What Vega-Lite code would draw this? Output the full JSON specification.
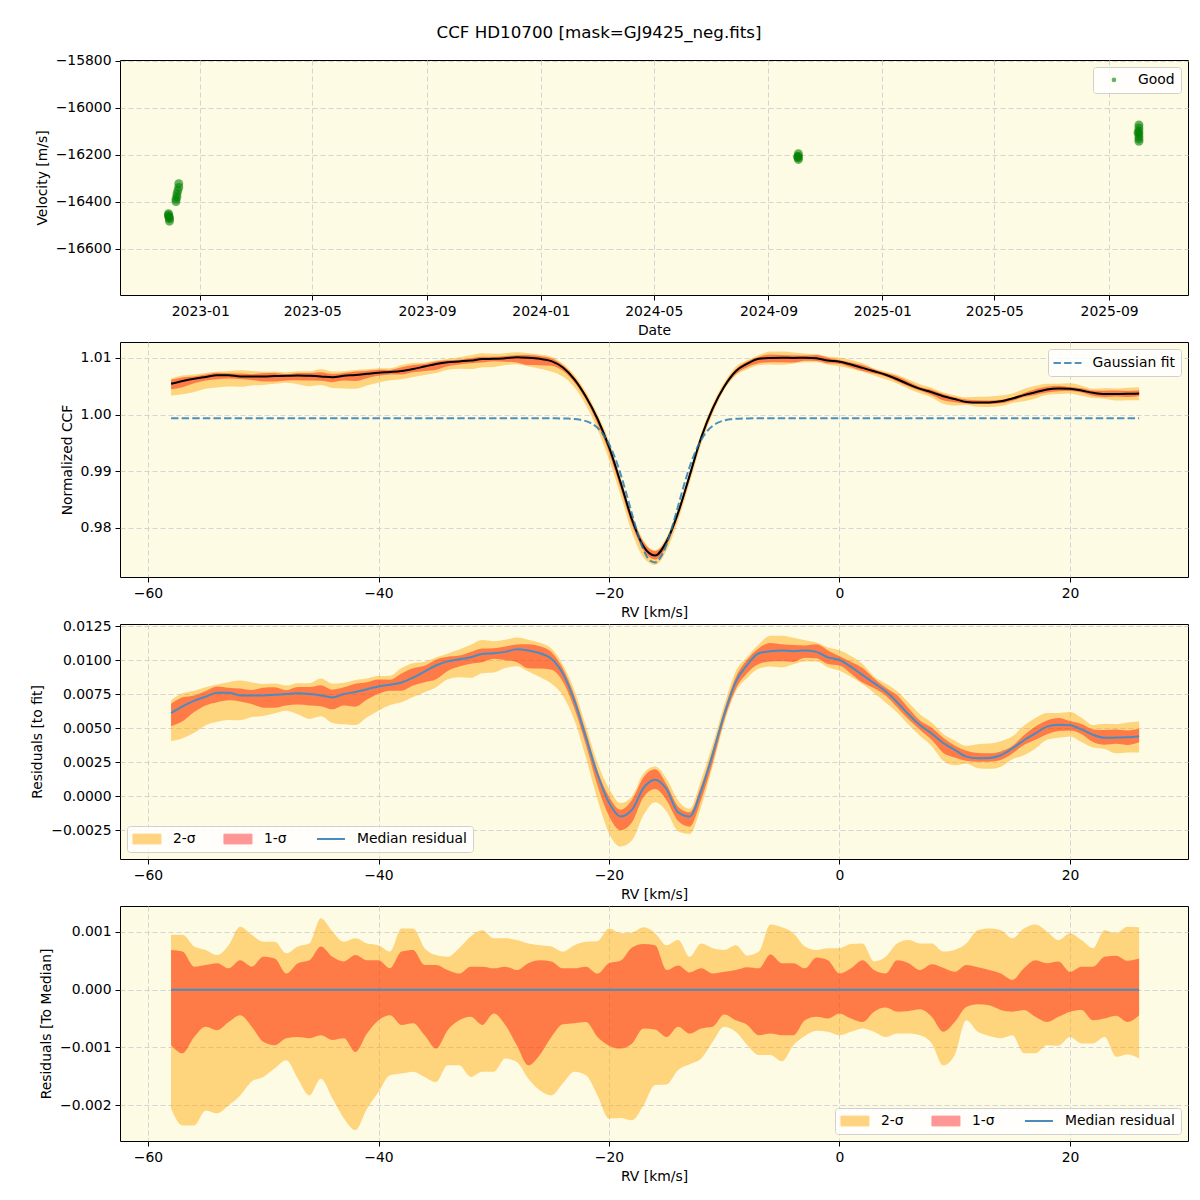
{
"$schema": "https://vega.github.io/schema/vega-lite/v6.json",
"background": "white",
"padding": {"left": 30, "top": 24, "right": 10, "bottom": 10},
"title": {"text": "CCF HD10700 [mask=GJ9425_neg.fits]", "font": "DejaVu Sans", "fontSize": 16.7, "fontWeight": "normal", "color": "black", "anchor": "middle", "frame": "group", "offset": 12, "dx": -55},
"spacing": 47,
"bounds": "flush",
"resolve": {"scale": {"x": "independent", "y": "independent", "color": "independent"}, "axis": {"x": "independent", "y": "independent"}, "legend": {"color": "independent"}},
"config": {
  "font": "DejaVu Sans",
  "view": {"fill": "#FDFBE4", "stroke": "black", "strokeWidth": 1},
  "axis": {"domain": false, "tickColor": "black", "tickSize": 5, "tickWidth": 1, "labelColor": "black", "labelFont": "DejaVu Sans", "labelFontSize": 13.9, "labelPadding": 4, "titleFont": "DejaVu Sans", "titleFontSize": 13.9, "titleFontWeight": "normal", "titleColor": "black", "titlePadding": 6, "gridColor": "#cfcfcf", "gridDash": [5, 3], "gridWidth": 0.9, "labelFlush": false, "labelOverlap": false, "labelBound": false},
  "legend": {"labelFont": "DejaVu Sans", "labelFontSize": 13.9, "labelColor": "black", "fillColor": "rgba(255,255,255,0.8)", "strokeColor": "#d0d0d0", "cornerRadius": 3, "padding": 6, "offset": 7}
},
"datasets": {
"rv": [
{"date":"2022-11-28","vel":-16450},{"date":"2022-11-28","vel":-16462},{"date":"2022-11-29","vel":-16472},{"date":"2022-11-29","vel":-16482},{"date":"2022-11-28","vel":-16455},{"date":"2022-11-29","vel":-16466},
{"date":"2022-12-06","vel":-16398},{"date":"2022-12-06","vel":-16388},{"date":"2022-12-07","vel":-16378},{"date":"2022-12-07","vel":-16366},{"date":"2022-12-08","vel":-16352},{"date":"2022-12-09","vel":-16338},{"date":"2022-12-09","vel":-16322},
{"date":"2024-10-03","vel":-16195},{"date":"2024-10-03","vel":-16205},{"date":"2024-10-03","vel":-16212},{"date":"2024-10-03","vel":-16219},{"date":"2024-10-02","vel":-16208},
{"date":"2025-10-03","vel":-16072},{"date":"2025-10-03","vel":-16085},{"date":"2025-10-03","vel":-16098},{"date":"2025-10-03","vel":-16110},{"date":"2025-10-03","vel":-16122},{"date":"2025-10-03","vel":-16132},{"date":"2025-10-03","vel":-16142},{"date":"2025-10-02","vel":-16105}
],
"gauss": [
{"v":-58,"g":0.99935},{"v":-25,"g":0.99935},{"v":-24,"g":0.99933},{"v":-23.5,"g":0.9993},{"v":-23,"g":0.99924},{"v":-22.5,"g":0.9991},{"v":-22,"g":0.99886},{"v":-21.5,"g":0.99842},{"v":-21,"g":0.99767},{"v":-20.5,"g":0.99652},{"v":-20,"g":0.99481},{"v":-19.5,"g":0.99249},{"v":-19,"g":0.98955},{"v":-18.5,"g":0.9861},{"v":-18,"g":0.98245},{"v":-17.5,"g":0.97897},{"v":-17,"g":0.97613},{"v":-16.5,"g":0.97436},{"v":-16,"g":0.97393},{"v":-15.5,"g":0.97492},{"v":-15,"g":0.97715},{"v":-14.5,"g":0.98031},{"v":-14,"g":0.98391},{"v":-13.5,"g":0.98752},{"v":-13,"g":0.99079},{"v":-12.5,"g":0.99349},{"v":-12,"g":0.99557},{"v":-11.5,"g":0.99704},{"v":-11,"g":0.99802},{"v":-10.5,"g":0.99862},{"v":-10,"g":0.99898},{"v":-9.5,"g":0.99917},{"v":-9,"g":0.99927},{"v":-8,"g":0.99934},{"v":-7,"g":0.99935},{"v":26,"g":0.99935}
],
"ccf": [
{"v":-58,"k":1.00545,"k2l":1.00339,"k1l":1.00449,"k1h":1.00614,"k2h":1.0064,"m":0.0061,"m2l":0.00404,"m1l":0.00514,"m1h":0.00679,"m2h":0.00705,"d2l":-0.00206,"d1l":-0.00096,"d1h":0.00069,"d2h":0.00095},
{"v":-57,"k":1.00595,"k2l":1.0036,"k1l":1.00485,"k1h":1.00661,"k2h":1.0069,"m":0.0066,"m2l":0.00425,"m1l":0.0055,"m1h":0.00726,"m2h":0.00755,"d2l":-0.00235,"d1l":-0.0011,"d1h":0.00066,"d2h":0.00095},
{"v":-56,"k":1.00635,"k2l":1.004,"k1l":1.00553,"k1h":1.00675,"k2h":1.0071,"m":0.007,"m2l":0.00465,"m1l":0.00618,"m1h":0.0074,"m2h":0.00775,"d2l":-0.00235,"d1l":-0.00082,"d1h":0.0004,"d2h":0.00075},
{"v":-55,"k":1.00665,"k2l":1.00456,"k1l":1.00601,"k1h":1.00708,"k2h":1.00734,"m":0.0073,"m2l":0.00521,"m1l":0.00666,"m1h":0.00773,"m2h":0.00799,"d2l":-0.00209,"d1l":-0.00064,"d1h":0.00043,"d2h":0.00069},
{"v":-54,"k":1.00695,"k2l":1.00481,"k1l":1.00625,"k1h":1.00741,"k2h":1.00755,"m":0.0076,"m2l":0.00546,"m1l":0.0069,"m1h":0.00806,"m2h":0.0082,"d2l":-0.00214,"d1l":-0.0007,"d1h":0.00046,"d2h":0.0006},
{"v":-53,"k":1.00695,"k2l":1.00495,"k1l":1.00639,"k1h":1.00732,"k2h":1.00772,"m":0.0076,"m2l":0.0056,"m1l":0.00704,"m1h":0.00797,"m2h":0.00837,"d2l":-0.002,"d1l":-0.00056,"d1h":0.00037,"d2h":0.00077},
{"v":-52,"k":1.00675,"k2l":1.00492,"k1l":1.00631,"k1h":1.00726,"k2h":1.00784,"m":0.0074,"m2l":0.00557,"m1l":0.00696,"m1h":0.00791,"m2h":0.00849,"d2l":-0.00183,"d1l":-0.00044,"d1h":0.00051,"d2h":0.00109},
{"v":-51,"k":1.00675,"k2l":1.00516,"k1l":1.00611,"k1h":1.00715,"k2h":1.0077,"m":0.0074,"m2l":0.00581,"m1l":0.00676,"m1h":0.0078,"m2h":0.00835,"d2l":-0.00159,"d1l":-0.00064,"d1h":0.0004,"d2h":0.00095},
{"v":-50,"k":1.00675,"k2l":1.00524,"k1l":1.00585,"k1h":1.00732,"k2h":1.00758,"m":0.0074,"m2l":0.00589,"m1l":0.0065,"m1h":0.00797,"m2h":0.00823,"d2l":-0.00151,"d1l":-0.0009,"d1h":0.00057,"d2h":0.00083},
{"v":-49,"k":1.0068,"k2l":1.00544,"k1l":1.00584,"k1h":1.00734,"k2h":1.00763,"m":0.00745,"m2l":0.00609,"m1l":0.00649,"m1h":0.00799,"m2h":0.00828,"d2l":-0.00136,"d1l":-0.00096,"d1h":0.00054,"d2h":0.00083},
{"v":-48,"k":1.00685,"k2l":1.00563,"k1l":1.00601,"k1h":1.00713,"k2h":1.00748,"m":0.0075,"m2l":0.00628,"m1l":0.00666,"m1h":0.00778,"m2h":0.00813,"d2l":-0.00122,"d1l":-0.00084,"d1h":0.00028,"d2h":0.00063},
{"v":-47,"k":1.0069,"k2l":1.00536,"k1l":1.00608,"k1h":1.00736,"k2h":1.00765,"m":0.00755,"m2l":0.00601,"m1l":0.00673,"m1h":0.00801,"m2h":0.0083,"d2l":-0.00154,"d1l":-0.00082,"d1h":0.00046,"d2h":0.00075},
{"v":-46,"k":1.00685,"k2l":1.00502,"k1l":1.00601,"k1h":1.00736,"k2h":1.00765,"m":0.0075,"m2l":0.00567,"m1l":0.00666,"m1h":0.00801,"m2h":0.0083,"d2l":-0.00183,"d1l":-0.00084,"d1h":0.00051,"d2h":0.0008},
{"v":-45,"k":1.00675,"k2l":1.00521,"k1l":1.00596,"k1h":1.0075,"k2h":1.00799,"m":0.0074,"m2l":0.00586,"m1l":0.00661,"m1h":0.00815,"m2h":0.00864,"d2l":-0.00154,"d1l":-0.00079,"d1h":0.00075,"d2h":0.00124},
{"v":-44,"k":1.0066,"k2l":1.00472,"k1l":1.00573,"k1h":1.00717,"k2h":1.00761,"m":0.00725,"m2l":0.00537,"m1l":0.00638,"m1h":0.00782,"m2h":0.00826,"d2l":-0.00188,"d1l":-0.00087,"d1h":0.00057,"d2h":0.00101},
{"v":-43,"k":1.00685,"k2l":1.00462,"k1l":1.00601,"k1h":1.00734,"k2h":1.00768,"m":0.0075,"m2l":0.00527,"m1l":0.00666,"m1h":0.00799,"m2h":0.00833,"d2l":-0.00223,"d1l":-0.00084,"d1h":0.00049,"d2h":0.00083},
{"v":-42,"k":1.007,"k2l":1.00457,"k1l":1.00592,"k1h":1.0076,"k2h":1.00789,"m":0.00765,"m2l":0.00522,"m1l":0.00657,"m1h":0.00825,"m2h":0.00854,"d2l":-0.00243,"d1l":-0.00108,"d1h":0.0006,"d2h":0.00089},
{"v":-41,"k":1.0072,"k2l":1.00514,"k1l":1.00644,"k1h":1.00771,"k2h":1.008,"m":0.00785,"m2l":0.00579,"m1l":0.00709,"m1h":0.00836,"m2h":0.00865,"d2l":-0.00206,"d1l":-0.00076,"d1h":0.00051,"d2h":0.0008},
{"v":-40,"k":1.0074,"k2l":1.00563,"k1l":1.00687,"k1h":1.00791,"k2h":1.00817,"m":0.00805,"m2l":0.00628,"m1l":0.00752,"m1h":0.00856,"m2h":0.00882,"d2l":-0.00177,"d1l":-0.00053,"d1h":0.00051,"d2h":0.00077},
{"v":-39,"k":1.00753,"k2l":1.00605,"k1l":1.00709,"k1h":1.0079,"k2h":1.00819,"m":0.00818,"m2l":0.0067,"m1l":0.00774,"m1h":0.00855,"m2h":0.00884,"d2l":-0.00148,"d1l":-0.00044,"d1h":0.00037,"d2h":0.00066},
{"v":-38,"k":1.0077,"k2l":1.00625,"k1l":1.00709,"k1h":1.00836,"k2h":1.00876,"m":0.00835,"m2l":0.0069,"m1l":0.00774,"m1h":0.00901,"m2h":0.00941,"d2l":-0.00145,"d1l":-0.00061,"d1h":0.00066,"d2h":0.00106},
{"v":-37,"k":1.00805,"k2l":1.00663,"k1l":1.00747,"k1h":1.00874,"k2h":1.00911,"m":0.0087,"m2l":0.00728,"m1l":0.00812,"m1h":0.00939,"m2h":0.00976,"d2l":-0.00142,"d1l":-0.00058,"d1h":0.00069,"d2h":0.00106},
{"v":-36,"k":1.0085,"k2l":1.00699,"k1l":1.00771,"k1h":1.00893,"k2h":1.00922,"m":0.00915,"m2l":0.00764,"m1l":0.00836,"m1h":0.00958,"m2h":0.00987,"d2l":-0.00151,"d1l":-0.00079,"d1h":0.00043,"d2h":0.00072},
{"v":-35,"k":1.00895,"k2l":1.00735,"k1l":1.00793,"k1h":1.00938,"k2h":1.00955,"m":0.0096,"m2l":0.008,"m1l":0.00858,"m1h":0.01003,"m2h":0.0102,"d2l":-0.0016,"d1l":-0.00102,"d1h":0.00043,"d2h":0.0006},
{"v":-34,"k":1.00925,"k2l":1.00794,"k1l":1.00855,"k1h":1.00959,"k2h":1.00982,"m":0.0099,"m2l":0.00859,"m1l":0.0092,"m1h":0.01024,"m2h":0.01047,"d2l":-0.00131,"d1l":-0.0007,"d1h":0.00034,"d2h":0.00057},
{"v":-33,"k":1.0094,"k2l":1.00809,"k1l":1.00887,"k1h":1.00968,"k2h":1.01012,"m":0.01005,"m2l":0.00874,"m1l":0.00952,"m1h":0.01033,"m2h":0.01077,"d2l":-0.00131,"d1l":-0.00053,"d1h":0.00028,"d2h":0.00072},
{"v":-32,"k":1.00955,"k2l":1.00804,"k1l":1.00908,"k1h":1.00995,"k2h":1.01047,"m":0.0102,"m2l":0.00869,"m1l":0.00973,"m1h":0.0106,"m2h":0.01112,"d2l":-0.00151,"d1l":-0.00047,"d1h":0.0004,"d2h":0.00092},
{"v":-31,"k":1.0098,"k2l":1.00838,"k1l":1.00919,"k1h":1.0102,"k2h":1.01083,"m":0.01045,"m2l":0.00903,"m1l":0.00984,"m1h":0.01085,"m2h":0.01148,"d2l":-0.00142,"d1l":-0.00061,"d1h":0.0004,"d2h":0.00103},
{"v":-30,"k":1.00985,"k2l":1.00843,"k1l":1.00944,"k1h":1.01022,"k2h":1.01074,"m":0.0105,"m2l":0.00908,"m1l":0.01009,"m1h":0.01087,"m2h":0.01139,"d2l":-0.00142,"d1l":-0.00041,"d1h":0.00037,"d2h":0.00089},
{"v":-29,"k":1.00995,"k2l":1.00876,"k1l":1.00934,"k1h":1.01035,"k2h":1.01084,"m":0.0106,"m2l":0.00941,"m1l":0.00999,"m1h":0.011,"m2h":0.01149,"d2l":-0.00119,"d1l":-0.00061,"d1h":0.0004,"d2h":0.00089},
{"v":-28,"k":1.01015,"k2l":1.0089,"k1l":1.00919,"k1h":1.01049,"k2h":1.01101,"m":0.0108,"m2l":0.00955,"m1l":0.00984,"m1h":0.01114,"m2h":0.01166,"d2l":-0.00125,"d1l":-0.00096,"d1h":0.00034,"d2h":0.00086},
{"v":-27,"k":1.01005,"k2l":1.00851,"k1l":1.00874,"k1h":1.01051,"k2h":1.01085,"m":0.0107,"m2l":0.00916,"m1l":0.00939,"m1h":0.01116,"m2h":0.0115,"d2l":-0.00154,"d1l":-0.00131,"d1h":0.00046,"d2h":0.0008},
{"v":-26,"k":1.00985,"k2l":1.00811,"k1l":1.00872,"k1h":1.01036,"k2h":1.01062,"m":0.0105,"m2l":0.00876,"m1l":0.00937,"m1h":0.01101,"m2h":0.01127,"d2l":-0.00174,"d1l":-0.00113,"d1h":0.00051,"d2h":0.00077},
{"v":-25,"k":1.00945,"k2l":1.00762,"k1l":1.00863,"k1h":1.00994,"k2h":1.0102,"m":0.0101,"m2l":0.00827,"m1l":0.00928,"m1h":0.01059,"m2h":0.01085,"d2l":-0.00183,"d1l":-0.00082,"d1h":0.00049,"d2h":0.00075},
{"v":-24,"k":1.00833,"k2l":1.00671,"k1l":1.00773,"k1h":1.0087,"k2h":1.00899,"m":0.009,"m2l":0.00738,"m1l":0.0084,"m1h":0.00937,"m2h":0.00966,"d2l":-0.00162,"d1l":-0.0006,"d1h":0.00037,"d2h":0.00066},
{"v":-23,"k":1.00624,"k2l":1.00482,"k1l":1.00566,"k1h":1.00661,"k2h":1.00701,"m":0.007,"m2l":0.00558,"m1l":0.00642,"m1h":0.00737,"m2h":0.00777,"d2l":-0.00142,"d1l":-0.00058,"d1h":0.00037,"d2h":0.00077},
{"v":-22,"k":1.00316,"k2l":1.00168,"k1l":1.0026,"k1h":1.00356,"k2h":1.00399,"m":0.0043,"m2l":0.00282,"m1l":0.00374,"m1h":0.0047,"m2h":0.00513,"d2l":-0.00148,"d1l":-0.00056,"d1h":0.0004,"d2h":0.00083},
{"v":-21,"k":0.99927,"k2l":0.99744,"k1l":0.99845,"k1h":0.99955,"k2h":1.00011,"m":0.0016,"m2l":-0.00023,"m1l":0.00078,"m1h":0.00188,"m2h":0.00244,"d2l":-0.00183,"d1l":-0.00082,"d1h":0.00028,"d2h":0.00084},
{"v":-20,"k":0.99431,"k2l":0.99208,"k1l":0.99334,"k1h":0.99477,"k2h":0.99537,"m":-0.0005,"m2l":-0.00273,"m1l":-0.00147,"m1h":-0.00004,"m2h":0.00056,"d2l":-0.00223,"d1l":-0.00097,"d1h":0.00046,"d2h":0.00106},
{"v":-19,"k":0.98805,"k2l":0.98583,"k1l":0.98703,"k1h":0.98855,"k2h":0.98903,"m":-0.0015,"m2l":-0.00372,"m1l":-0.00252,"m1h":-0.001,"m2h":-0.00052,"d2l":-0.00222,"d1l":-0.00102,"d1h":0.0005,"d2h":0.00098},
{"v":-18,"k":0.98145,"k2l":0.97919,"k1l":0.98052,"k1h":0.98218,"k2h":0.98244,"m":-0.001,"m2l":-0.00326,"m1l":-0.00193,"m1h":-0.00027,"m2h":-0.00001,"d2l":-0.00226,"d1l":-0.00093,"d1h":0.00073,"d2h":0.00099},
{"v":-17,"k":0.97673,"k2l":0.97473,"k1l":0.97606,"k1h":0.97752,"k2h":0.97781,"m":0.0006,"m2l":-0.0014,"m1l":-0.00007,"m1h":0.00139,"m2h":0.00168,"d2l":-0.002,"d1l":-0.00067,"d1h":0.00079,"d2h":0.00108},
{"v":-16,"k":0.97513,"k2l":0.97348,"k1l":0.97444,"k1h":0.9759,"k2h":0.97611,"m":0.0012,"m2l":-0.00045,"m1l":0.00051,"m1h":0.00197,"m2h":0.00218,"d2l":-0.00165,"d1l":-0.00069,"d1h":0.00077,"d2h":0.00098},
{"v":-15,"k":0.97765,"k2l":0.97601,"k1l":0.97683,"k1h":0.97799,"k2h":0.97842,"m":0.0005,"m2l":-0.00114,"m1l":-0.00032,"m1h":0.00084,"m2h":0.00127,"d2l":-0.00164,"d1l":-0.00082,"d1h":0.00034,"d2h":0.00077},
{"v":-14,"k":0.98271,"k2l":0.98132,"k1l":0.98207,"k1h":0.98313,"k2h":0.98357,"m":-0.0012,"m2l":-0.00259,"m1l":-0.00184,"m1h":-0.00078,"m2h":-0.00034,"d2l":-0.00139,"d1l":-0.00064,"d1h":0.00042,"d2h":0.00086},
{"v":-13,"k":0.98929,"k2l":0.988,"k1l":0.98853,"k1h":0.98959,"k2h":0.98986,"m":-0.0015,"m2l":-0.00279,"m1l":-0.00226,"m1h":-0.0012,"m2h":-0.00093,"d2l":-0.00129,"d1l":-0.00076,"d1h":0.0003,"d2h":0.00057},
{"v":-12,"k":0.99597,"k2l":0.99478,"k1l":0.9953,"k1h":0.99634,"k2h":0.99677,"m":0.0004,"m2l":-0.00079,"m1l":-0.00027,"m1h":0.00077,"m2h":0.0012,"d2l":-0.00119,"d1l":-0.00067,"d1h":0.00037,"d2h":0.0008},
{"v":-11,"k":1.00112,"k2l":1.00022,"k1l":1.00048,"k1h":1.0014,"k2h":1.00184,"m":0.0031,"m2l":0.0022,"m1l":0.00246,"m1h":0.00338,"m2h":0.00382,"d2l":-0.0009,"d1l":-0.00064,"d1h":0.00028,"d2h":0.00072},
{"v":-10,"k":1.00498,"k2l":1.00434,"k1l":1.00455,"k1h":1.00529,"k2h":1.00567,"m":0.006,"m2l":0.00536,"m1l":0.00557,"m1h":0.00631,"m2h":0.00669,"d2l":-0.00064,"d1l":-0.00043,"d1h":0.00031,"d2h":0.00069},
{"v":-9,"k":1.00767,"k2l":1.00694,"k1l":1.00714,"k1h":1.00801,"k2h":1.00844,"m":0.0084,"m2l":0.00767,"m1l":0.00787,"m1h":0.00874,"m2h":0.00917,"d2l":-0.00073,"d1l":-0.00053,"d1h":0.00034,"d2h":0.00077},
{"v":-8,"k":1.00899,"k2l":1.00803,"k1l":1.00838,"k1h":1.00938,"k2h":1.00958,"m":0.00965,"m2l":0.00869,"m1l":0.00904,"m1h":0.01004,"m2h":0.01024,"d2l":-0.00096,"d1l":-0.00061,"d1h":0.00039,"d2h":0.00059},
{"v":-7,"k":1.00985,"k2l":1.00872,"k1l":1.00906,"k1h":1.01022,"k2h":1.01051,"m":0.0105,"m2l":0.00937,"m1l":0.00971,"m1h":0.01087,"m2h":0.01116,"d2l":-0.00113,"d1l":-0.00079,"d1h":0.00037,"d2h":0.00066},
{"v":-6,"k":1.01,"k2l":1.00887,"k1l":1.00924,"k1h":1.01061,"k2h":1.01113,"m":0.01065,"m2l":0.00952,"m1l":0.00989,"m1h":0.01126,"m2h":0.01178,"d2l":-0.00113,"d1l":-0.00076,"d1h":0.00061,"d2h":0.00113},
{"v":-5,"k":1.01005,"k2l":1.00881,"k1l":1.00926,"k1h":1.01051,"k2h":1.01113,"m":0.0107,"m2l":0.00946,"m1l":0.00991,"m1h":0.01116,"m2h":0.01178,"d2l":-0.00124,"d1l":-0.00079,"d1h":0.00046,"d2h":0.00108},
{"v":-4,"k":1.01,"k2l":1.00904,"k1l":1.00921,"k1h":1.01046,"k2h":1.01098,"m":0.01065,"m2l":0.00969,"m1l":0.00986,"m1h":0.01111,"m2h":0.01163,"d2l":-0.00096,"d1l":-0.00079,"d1h":0.00046,"d2h":0.00098},
{"v":-3,"k":1.01005,"k2l":1.00925,"k1l":1.00952,"k1h":1.01042,"k2h":1.0108,"m":0.0107,"m2l":0.0099,"m1l":0.01017,"m1h":0.01107,"m2h":0.01145,"d2l":-0.0008,"d1l":-0.00053,"d1h":0.00037,"d2h":0.00075},
{"v":-2,"k":1.00995,"k2l":1.00924,"k1l":1.00948,"k1h":1.01051,"k2h":1.01064,"m":0.0106,"m2l":0.00989,"m1l":0.01013,"m1h":0.01116,"m2h":0.01129,"d2l":-0.00071,"d1l":-0.00047,"d1h":0.00056,"d2h":0.00069},
{"v":-1,"k":1.00955,"k2l":1.00882,"k1l":1.00905,"k1h":1.01006,"k2h":1.01027,"m":0.0102,"m2l":0.00947,"m1l":0.0097,"m1h":0.01071,"m2h":0.01092,"d2l":-0.00073,"d1l":-0.0005,"d1h":0.00051,"d2h":0.00072},
{"v":0,"k":1.00935,"k2l":1.00856,"k1l":1.00894,"k1h":1.00963,"k2h":1.01007,"m":0.01,"m2l":0.00921,"m1l":0.00959,"m1h":0.01028,"m2h":0.01072,"d2l":-0.00079,"d1l":-0.00041,"d1h":0.00028,"d2h":0.00072},
{"v":1,"k":1.00885,"k2l":1.00812,"k1l":1.00835,"k1h":1.00922,"k2h":1.00964,"m":0.0095,"m2l":0.00877,"m1l":0.009,"m1h":0.00987,"m2h":0.01029,"d2l":-0.00073,"d1l":-0.0005,"d1h":0.00037,"d2h":0.00079},
{"v":2,"k":1.00825,"k2l":1.00758,"k1l":1.00769,"k1h":1.00876,"k2h":1.00905,"m":0.0089,"m2l":0.00823,"m1l":0.00834,"m1h":0.00941,"m2h":0.0097,"d2l":-0.00067,"d1l":-0.00056,"d1h":0.00051,"d2h":0.0008},
{"v":3,"k":1.00765,"k2l":1.00692,"k1l":1.00727,"k1h":1.00799,"k2h":1.00814,"m":0.0083,"m2l":0.00757,"m1l":0.00792,"m1h":0.00864,"m2h":0.00879,"d2l":-0.00073,"d1l":-0.00038,"d1h":0.00034,"d2h":0.00049},
{"v":4,"k":1.00705,"k2l":1.00623,"k1l":1.00674,"k1h":1.00733,"k2h":1.00762,"m":0.0077,"m2l":0.00688,"m1l":0.00739,"m1h":0.00798,"m2h":0.00827,"d2l":-0.00082,"d1l":-0.00031,"d1h":0.00028,"d2h":0.00057},
{"v":5,"k":1.00625,"k2l":1.00549,"k1l":1.00587,"k1h":1.00676,"k2h":1.00705,"m":0.0069,"m2l":0.00614,"m1l":0.00652,"m1h":0.00741,"m2h":0.0077,"d2l":-0.00076,"d1l":-0.00038,"d1h":0.00051,"d2h":0.0008},
{"v":6,"k":1.00535,"k2l":1.00459,"k1l":1.00498,"k1h":1.00581,"k2h":1.00621,"m":0.006,"m2l":0.00524,"m1l":0.00563,"m1h":0.00646,"m2h":0.00686,"d2l":-0.00076,"d1l":-0.00037,"d1h":0.00046,"d2h":0.00086},
{"v":7,"k":1.00455,"k2l":1.00376,"k1l":1.00421,"k1h":1.00489,"k2h":1.00535,"m":0.0052,"m2l":0.00441,"m1l":0.00486,"m1h":0.00554,"m2h":0.006,"d2l":-0.00079,"d1l":-0.00034,"d1h":0.00034,"d2h":0.0008},
{"v":8,"k":1.00395,"k2l":1.00302,"k1l":1.00348,"k1h":1.00439,"k2h":1.00475,"m":0.0046,"m2l":0.00367,"m1l":0.00413,"m1h":0.00504,"m2h":0.0054,"d2l":-0.00093,"d1l":-0.00047,"d1h":0.00044,"d2h":0.0008},
{"v":9,"k":1.00325,"k2l":1.00194,"k1l":1.00252,"k1h":1.00363,"k2h":1.00391,"m":0.0039,"m2l":0.00259,"m1l":0.00317,"m1h":0.00428,"m2h":0.00456,"d2l":-0.00131,"d1l":-0.00073,"d1h":0.00038,"d2h":0.00066},
{"v":10,"k":1.00275,"k2l":1.00162,"k1l":1.00219,"k1h":1.00306,"k2h":1.00344,"m":0.0034,"m2l":0.00227,"m1l":0.00284,"m1h":0.00371,"m2h":0.00409,"d2l":-0.00113,"d1l":-0.00056,"d1h":0.00031,"d2h":0.00069},
{"v":11,"k":1.00225,"k2l":1.00172,"k1l":1.00195,"k1h":1.00268,"k2h":1.00305,"m":0.0029,"m2l":0.00237,"m1l":0.0026,"m1h":0.00333,"m2h":0.0037,"d2l":-0.00053,"d1l":-0.0003,"d1h":0.00043,"d2h":0.0008},
{"v":12,"k":1.00213,"k2l":1.0014,"k1l":1.00188,"k1h":1.00252,"k2h":1.00316,"m":0.00278,"m2l":0.00205,"m1l":0.00253,"m1h":0.00317,"m2h":0.00381,"d2l":-0.00073,"d1l":-0.00025,"d1h":0.00039,"d2h":0.00103},
{"v":13,"k":1.00215,"k2l":1.00135,"k1l":1.00188,"k1h":1.00249,"k2h":1.00321,"m":0.0028,"m2l":0.002,"m1l":0.00253,"m1h":0.00314,"m2h":0.00386,"d2l":-0.0008,"d1l":-0.00027,"d1h":0.00034,"d2h":0.00106},
{"v":14,"k":1.00235,"k2l":1.00151,"k1l":1.002,"k1h":1.00263,"k2h":1.00338,"m":0.003,"m2l":0.00216,"m1l":0.00265,"m1h":0.00328,"m2h":0.00403,"d2l":-0.00084,"d1l":-0.00035,"d1h":0.00028,"d2h":0.00103},
{"v":15,"k":1.00285,"k2l":1.00206,"k1l":1.00247,"k1h":1.00302,"k2h":1.00374,"m":0.0035,"m2l":0.00271,"m1l":0.00312,"m1h":0.00367,"m2h":0.00439,"d2l":-0.00079,"d1l":-0.00038,"d1h":0.00017,"d2h":0.00089},
{"v":16,"k":1.00345,"k2l":1.00235,"k1l":1.0031,"k1h":1.00382,"k2h":1.00451,"m":0.0041,"m2l":0.003,"m1l":0.00375,"m1h":0.00447,"m2h":0.00516,"d2l":-0.0011,"d1l":-0.00035,"d1h":0.00037,"d2h":0.00106},
{"v":17,"k":1.00395,"k2l":1.00285,"k1l":1.00348,"k1h":1.00446,"k2h":1.00508,"m":0.0046,"m2l":0.0035,"m1l":0.00413,"m1h":0.00511,"m2h":0.00573,"d2l":-0.0011,"d1l":-0.00047,"d1h":0.00051,"d2h":0.00113},
{"v":18,"k":1.00445,"k2l":1.00349,"k1l":1.00389,"k1h":1.00491,"k2h":1.00546,"m":0.0051,"m2l":0.00414,"m1l":0.00454,"m1h":0.00556,"m2h":0.00611,"d2l":-0.00096,"d1l":-0.00056,"d1h":0.00046,"d2h":0.00101},
{"v":19,"k":1.0046,"k2l":1.00363,"k1l":1.00413,"k1h":1.00509,"k2h":1.00546,"m":0.00525,"m2l":0.00428,"m1l":0.00478,"m1h":0.00574,"m2h":0.00611,"d2l":-0.00097,"d1l":-0.00047,"d1h":0.00049,"d2h":0.00086},
{"v":20,"k":1.00455,"k2l":1.00373,"k1l":1.00417,"k1h":1.00486,"k2h":1.00553,"m":0.0052,"m2l":0.00438,"m1l":0.00482,"m1h":0.00551,"m2h":0.00618,"d2l":-0.00082,"d1l":-0.00038,"d1h":0.00031,"d2h":0.00098},
{"v":21,"k":1.00425,"k2l":1.00332,"k1l":1.0039,"k1h":1.00465,"k2h":1.00511,"m":0.0049,"m2l":0.00397,"m1l":0.00455,"m1h":0.0053,"m2h":0.00576,"d2l":-0.00093,"d1l":-0.00035,"d1h":0.0004,"d2h":0.00086},
{"v":22,"k":1.00385,"k2l":1.00292,"k1l":1.00332,"k1h":1.00425,"k2h":1.00457,"m":0.0045,"m2l":0.00357,"m1l":0.00397,"m1h":0.0049,"m2h":0.00522,"d2l":-0.00093,"d1l":-0.00053,"d1h":0.0004,"d2h":0.00072},
{"v":23,"k":1.00363,"k2l":1.00281,"k1l":1.00313,"k1h":1.0042,"k2h":1.00466,"m":0.00428,"m2l":0.00346,"m1l":0.00378,"m1h":0.00485,"m2h":0.00531,"d2l":-0.00082,"d1l":-0.0005,"d1h":0.00057,"d2h":0.00103},
{"v":24,"k":1.00365,"k2l":1.00249,"k1l":1.0032,"k1h":1.00424,"k2h":1.00463,"m":0.0043,"m2l":0.00314,"m1l":0.00385,"m1h":0.00489,"m2h":0.00528,"d2l":-0.00116,"d1l":-0.00045,"d1h":0.00059,"d2h":0.00098},
{"v":25,"k":1.00367,"k2l":1.00255,"k1l":1.00311,"k1h":1.00417,"k2h":1.00476,"m":0.00432,"m2l":0.0032,"m1l":0.00376,"m1h":0.00482,"m2h":0.00541,"d2l":-0.00112,"d1l":-0.00056,"d1h":0.0005,"d2h":0.00109},
{"v":26,"k":1.00375,"k2l":1.00256,"k1l":1.00331,"k1h":1.00429,"k2h":1.00483,"m":0.0044,"m2l":0.00321,"m1l":0.00396,"m1h":0.00494,"m2h":0.00548,"d2l":-0.00119,"d1l":-0.00044,"d1h":0.00054,"d2h":0.00108}
]
},
"vconcat": [
{
  "width": 1068, "height": 235,
  "data": {"name": "rv"},
  "mark": {"type": "point", "filled": true, "opacity": 0.6, "size": 80},
  "encoding": {
    "x": {"field": "date", "type": "temporal", "title": "Date",
      "scale": {"type": "utc", "domain": [{"year": 2022, "month": 10, "date": 7, "utc": true}, {"year": 2025, "month": 11, "date": 24, "hours": 14, "utc": true}]},
      "axis": {"labelExpr": "utcFormat(datum.value, '%Y-%m')", "labelOverlap": false, "values": [
        {"year": 2023, "month": 1, "date": 1, "utc": true}, {"year": 2023, "month": 5, "date": 1, "utc": true}, {"year": 2023, "month": 9, "date": 1, "utc": true},
        {"year": 2024, "month": 1, "date": 1, "utc": true}, {"year": 2024, "month": 5, "date": 1, "utc": true}, {"year": 2024, "month": 9, "date": 1, "utc": true},
        {"year": 2025, "month": 1, "date": 1, "utc": true}, {"year": 2025, "month": 5, "date": 1, "utc": true}, {"year": 2025, "month": 9, "date": 1, "utc": true}]}},
    "y": {"field": "vel", "type": "quantitative", "title": "Velocity [m/s]",
      "scale": {"domain": [-16796, -15796], "nice": false, "zero": false},
      "axis": {"values": [-16600, -16400, -16200, -16000, -15800], "format": "d", "labelOverlap": false}},
    "color": {"datum": "Good", "scale": {"range": ["#008000"]},
      "legend": {"title": null, "orient": "top-right", "symbolType": "circle", "symbolSize": 22, "symbolOffset": 8, "labelOffset": 17}}
  }
},
{
  "width": 1068, "height": 235,
  "layer": [
    {"data": {"name": "ccf"}, "mark": {"type": "area", "interpolate": "monotone", "fill": "#FFA500", "fillOpacity": 0.45},
     "encoding": {"x": {"field": "v", "type": "quantitative", "title": "RV [km/s]", "scale": {"domain": [-62.43, 30.24], "nice": false, "zero": false}, "axis": {"values": [-60, -40, -20, 0, 20], "format": "d", "labelOverlap": false}},
       "y": {"field": "k2l", "type": "quantitative", "title": "Normalized CCF", "scale": {"domain": [0.97135, 1.01282], "nice": false, "zero": false}, "axis": {"values": [0.98, 0.99, 1.0, 1.01], "format": ".2f", "labelOverlap": false}},
       "y2": {"field": "k2h"}}},
    {"data": {"name": "ccf"}, "mark": {"type": "area", "interpolate": "monotone", "fill": "#FF0000", "fillOpacity": 0.42},
     "encoding": {"x": {"field": "v", "type": "quantitative", "title": "RV [km/s]"},
       "y": {"field": "k1l", "type": "quantitative", "title": "Normalized CCF"},
       "y2": {"field": "k1h"}}},
    {"data": {"name": "ccf"}, "mark": {"type": "line", "interpolate": "monotone", "color": "black", "strokeWidth": 2},
     "encoding": {"x": {"field": "v", "type": "quantitative", "title": "RV [km/s]"},
       "y": {"field": "k", "type": "quantitative", "title": "Normalized CCF"}}},
    {"data": {"name": "gauss"}, "mark": {"type": "line", "interpolate": "monotone", "strokeWidth": 2, "strokeDash": [7.4, 3.2], "opacity": 0.8},
     "encoding": {"x": {"field": "v", "type": "quantitative", "title": "RV [km/s]"},
       "y": {"field": "g", "type": "quantitative", "title": "Normalized CCF"},
       "color": {"datum": "Gaussian fit", "scale": {"range": ["#1f77b4"]},
         "legend": {"title": null, "orient": "top-right", "symbolType": "M-2,0H2", "symbolSize": 196, "symbolOffset": 5.5, "labelOffset": 17, "symbolDash": [7.4, 3.2], "symbolStrokeWidth": 2}}}}
  ]
},
{
  "width": 1068, "height": 235,
  "layer": [
    {"data": {"name": "ccf"}, "mark": {"type": "area", "interpolate": "monotone", "fill": "#FFA500", "fillOpacity": 0.45},
     "encoding": {"x": {"field": "v", "type": "quantitative", "title": "RV [km/s]", "scale": {"domain": [-62.43, 30.24], "nice": false, "zero": false}, "axis": {"values": [-60, -40, -20, 0, 20], "format": "d", "labelOverlap": false}},
       "y": {"field": "m2l", "type": "quantitative", "title": "Residuals [to fit]", "scale": {"domain": [-0.00463, 0.01265], "nice": false, "zero": false}, "axis": {"values": [-0.0025, 0, 0.0025, 0.005, 0.0075, 0.01, 0.0125], "format": ".4f", "labelOverlap": false, "labelSeparation": 0}},
       "y2": {"field": "m2h"},
       "color": {"datum": "2-σ", "scale": {"domain": ["2-σ", "1-σ", "Median residual"], "range": ["#FFD37F", "#FF9696", "#4a8cc2"]},
         "legend": {"title": null, "orient": "bottom-left", "direction": "horizontal", "symbolSize": 196, "symbolOffset": 7, "labelOffset": 19, "columnPadding": 25,
           "symbolType": {"expr": "datum.value === 'Median residual' ? 'M-2,0H2' : 'M-2,-0.7H2V0.7H-2Z'"},
           "symbolStrokeWidth": {"expr": "datum.value === 'Median residual' ? 2 : 1"}}}}},
    {"data": {"name": "ccf"}, "mark": {"type": "area", "interpolate": "monotone", "fill": "#FF0000", "fillOpacity": 0.42},
     "encoding": {"x": {"field": "v", "type": "quantitative", "title": "RV [km/s]"},
       "y": {"field": "m1l", "type": "quantitative", "title": "Residuals [to fit]", "axis": {"values": [-0.0025, 0, 0.0025, 0.005, 0.0075, 0.01, 0.0125], "format": ".4f", "labelOverlap": false}},
       "y2": {"field": "m1h"},
       "color": {"datum": "1-σ"}}},
    {"data": {"name": "ccf"}, "mark": {"type": "line", "interpolate": "monotone", "strokeWidth": 2},
     "encoding": {"x": {"field": "v", "type": "quantitative", "title": "RV [km/s]"},
       "y": {"field": "m", "type": "quantitative", "title": "Residuals [to fit]", "axis": {"values": [-0.0025, 0, 0.0025, 0.005, 0.0075, 0.01, 0.0125], "format": ".4f", "labelOverlap": false}},
       "color": {"datum": "Median residual"}}}
  ]
},
{
  "width": 1068, "height": 235,
  "layer": [
    {"data": {"name": "ccf"}, "mark": {"type": "area", "interpolate": "monotone", "fill": "#FFA500", "fillOpacity": 0.45},
     "encoding": {"x": {"field": "v", "type": "quantitative", "title": "RV [km/s]", "scale": {"domain": [-62.43, 30.24], "nice": false, "zero": false}, "axis": {"values": [-60, -40, -20, 0, 20], "format": "d", "labelOverlap": false}},
       "y": {"field": "d2l", "type": "quantitative", "title": "Residuals [To Median]", "scale": {"domain": [-0.00262, 0.00145], "nice": false, "zero": false}, "axis": {"values": [-0.002, -0.001, 0, 0.001], "format": ".3f", "labelOverlap": false}},
       "y2": {"field": "d2h"},
       "color": {"datum": "2-σ", "scale": {"domain": ["2-σ", "1-σ", "Median residual"], "range": ["#FFD37F", "#FF9696", "#4a8cc2"]},
         "legend": {"title": null, "orient": "bottom-right", "direction": "horizontal", "symbolSize": 196, "symbolOffset": 7, "labelOffset": 19, "columnPadding": 25,
           "symbolType": {"expr": "datum.value === 'Median residual' ? 'M-2,0H2' : 'M-2,-0.7H2V0.7H-2Z'"},
           "symbolStrokeWidth": {"expr": "datum.value === 'Median residual' ? 2 : 1"}}}}},
    {"data": {"name": "ccf"}, "mark": {"type": "area", "interpolate": "monotone", "fill": "#FF0000", "fillOpacity": 0.42},
     "encoding": {"x": {"field": "v", "type": "quantitative", "title": "RV [km/s]"},
       "y": {"field": "d1l", "type": "quantitative", "title": "Residuals [To Median]"},
       "y2": {"field": "d1h"},
       "color": {"datum": "1-σ"}}},
    {"data": {"name": "ccf"}, "mark": {"type": "line", "strokeWidth": 2},
     "encoding": {"x": {"field": "v", "type": "quantitative", "title": "RV [km/s]"},
       "y": {"datum": 0, "type": "quantitative"},
       "color": {"datum": "Median residual"}}}
  ]
}
]
}
